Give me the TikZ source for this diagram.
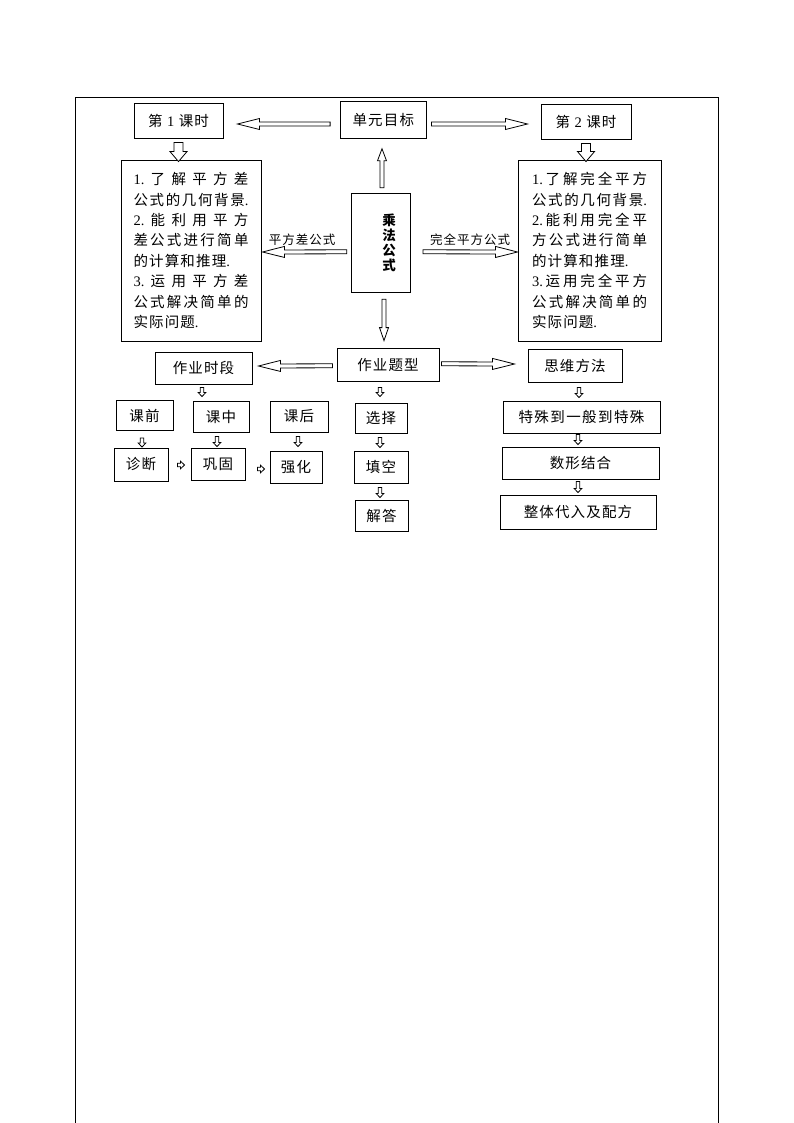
\documentclass[tikz,border=0pt]{standalone}
\usepackage{fontspec}
\setmainfont[LetterSpace=8]{Noto Sans CJK SC}
\newfontfamily\lat{Liberation Serif}
\newcommand\dg[1]{{\lat #1}}
\newcommand\jl[1]{\makebox[115pt][s]{#1}}
\usetikzlibrary{calc}
\tikzset{
  bx/.style={draw, line width=0.9pt, inner sep=0pt, font=\fontsize{14.5}{16}\selectfont},
  lbl/.style={inner sep=0pt, font=\fontsize{12.5}{13}\selectfont},
  arrowline/.style={draw, line width=0.8pt, fill=white, line join=miter},
}
\newcommand\blockarrow[5]{%
  \coordinate (baS) at #1;
  \coordinate (baE) at #2;
  \coordinate (baH) at ($(baE)!#5!(baS)$);
  \draw[arrowline] ($(baS)!#3!-90:(baE)$) -- ($(baH)!#3!-90:(baE)$) -- ($(baH)!#4!-90:(baE)$) -- (baE) -- ($(baH)!#4!90:(baE)$) -- ($(baH)!#3!90:(baE)$) -- ($(baS)!#3!90:(baE)$) -- cycle;}
\newcommand\bigarrow[2]{\blockarrow{#1}{#2}{2pt}{5.5pt}{22pt}}
\newcommand\fatarrow[2]{\blockarrow{#1}{#2}{4.5pt}{8.5pt}{10pt}}
\newcommand\midarrow[2]{\blockarrow{#1}{#2}{2pt}{4.5pt}{12pt}}
\newcommand\tinyarrow[2]{\blockarrow{#1}{#2}{1.75pt}{3.75pt}{4pt}}
\begin{document}
\begin{tikzpicture}[x=1pt,y=-1pt]
\useasboundingbox (0,0) rectangle (794,1123);
\fill[white] (0,0) rectangle (794,1123);
\draw[line width=0.9pt] (75,1123) -- (75,97) -- (718,97) -- (718,1123);

% top row
\node[bx, minimum width=89, minimum height=35] (k1) at (178.5,120.5) {\makebox[61pt][s]{第\hfill\dg{1}\hfill 课时}};
\node[bx, minimum width=85.5, minimum height=36.6] (ub) at (383.3,120) {单元目标};
\node[bx, minimum width=90, minimum height=35] (k2) at (586,121.5) {\makebox[61pt][s]{第\hfill\dg{2}\hfill 课时}};

% text boxes
\node[bx, minimum width=140, minimum height=181, text width=115, align=left, font=\fontsize{14.5}{20.4}\selectfont] (L) at (191,250.5) {%
\jl{\dg{1.}\hfill 了\hfill 解\hfill 平\hfill 方\hfill 差}\\
\jl{公\hfill 式\hfill 的\hfill 几\hfill 何\hfill 背\hfill 景\dg{.}}\\
\jl{\dg{2.}\hfill 能\hfill 利\hfill 用\hfill 平\hfill 方}\\
\jl{差\hfill 公\hfill 式\hfill 进\hfill 行\hfill 简\hfill 单}\\
的计算和推理\dg{.}\\
\jl{\dg{3.}\hfill 运\hfill 用\hfill 平\hfill 方\hfill 差}\\
\jl{公\hfill 式\hfill 解\hfill 决\hfill 简\hfill 单\hfill 的}\\
实际问题\dg{.}};
\node[bx, minimum width=143, minimum height=181, text width=115, align=left, font=\fontsize{14.5}{20.4}\selectfont] (R) at (589.5,250.5) {%
\jl{\dg{1.}\hfill 了\hfill 解\hfill 完\hfill 全\hfill 平\hfill 方}\\
\jl{公\hfill 式\hfill 的\hfill 几\hfill 何\hfill 背\hfill 景\dg{.}}\\
\jl{\dg{2.}\hfill 能\hfill 利\hfill 用\hfill 完\hfill 全\hfill 平}\\
\jl{方\hfill 公\hfill 式\hfill 进\hfill 行\hfill 简\hfill 单}\\
的计算和推理\dg{.}\\
\jl{\dg{3.}\hfill 运\hfill 用\hfill 完\hfill 全\hfill 平\hfill 方}\\
\jl{公\hfill 式\hfill 解\hfill 决\hfill 简\hfill 单\hfill 的}\\
实际问题\dg{.}};

\node[bx, minimum width=58.3, minimum height=99, text width=30, align=right, font=\bfseries\fontsize{13.5}{15}\selectfont] (C) at (380.8,242.8) {乘\\法\\公\\式};

\node[lbl] (lpf) at (302,240) {平方差公式};
\node[lbl] (lwq) at (470,240) {完全平方公式};

% homework row
\node[bx, minimum width=102, minimum height=33.5] (zt) at (388,364.8) {作业题型};
\node[bx, minimum width=97, minimum height=32] (zs) at (203.5,368) {作业时段};
\node[bx, minimum width=94, minimum height=33] (sw) at (575,365.5) {思维方法};

\node[bx, minimum width=57, minimum height=30] (kq) at (144.5,415.5) {课前};
\node[bx, minimum width=56, minimum height=31] (kz) at (221,416.5) {课中};
\node[bx, minimum width=58, minimum height=31] (kh) at (299,416.5) {课后};
\node[bx, minimum width=54, minimum height=33] (zd) at (141,464.5) {诊断};
\node[bx, minimum width=54, minimum height=32] (gg) at (218,464) {巩固};
\node[bx, minimum width=52, minimum height=32] (qh) at (296,467) {强化};

\node[bx, minimum width=52, minimum height=30] (xz) at (381,418) {选择};
\node[bx, minimum width=54, minimum height=32] (tk) at (381,467) {填空};
\node[bx, minimum width=53, minimum height=31] (jd) at (381.5,515.5) {解答};

\node[bx, minimum width=157, minimum height=32] (ts) at (581.5,417) {\makebox[126pt][s]{特\hfill 殊\hfill 到\hfill 一\hfill 般\hfill 到\hfill 特\hfill 殊}};
\node[bx, minimum width=157, minimum height=32] (sx) at (580.5,463) {数形结合};
\node[bx, minimum width=156, minimum height=34] (zf) at (578,512) {整体代入及配方};

% arrows
\bigarrow{($(ub.west)+(-10,4)$)}{($(k1.east)+(14,3.5)$)}
\bigarrow{($(ub.east)+(5,4)$)}{($(k2.west)+(-13,2.5)$)}
\fatarrow{($(k1.south)+(0,4)$)}{($(L.north)+(-12.5,2)$)}
\fatarrow{($(k2.south)+(0,4)$)}{($(R.north)+(-3.5,2)$)}
\midarrow{($(C.north)+(1.2,-5)$)}{($(ub.south)+(-1.3,10)$)}
\bigarrow{($(C.west)+(-4.5,9)$)}{($(L.east)+(1,1.5)$)}
\bigarrow{($(C.east)+(12.5,9)$)}{($(R.west)+(0,1.5)$)}
\blockarrow{($(C.south)+(3.2,6.5)$)}{($(zt.north)+(-4,-7)$)}{2pt}{4.5pt}{13pt}
\bigarrow{($(zt.west)+(-4,1)$)}{($(zs.east)+(6,-2)$)}
\bigarrow{($(zt.east)+(2,-1)$)}{($(sw.west)+(-13,-1.5)$)}

\tinyarrow{($(zs.south)+(-1.5,3)$)}{($(kz.north)+(-19,-4)$)}
\tinyarrow{($(kq.south)+(-2.5,7)$)}{($(zd.north)+(1,-0.5)$)}
\tinyarrow{($(kz.south)+(-4,4)$)}{($(gg.north)+(-1,-1)$)}
\tinyarrow{($(kh.south)+(-1,4)$)}{($(qh.north)+(2,-4)$)}
\tinyarrow{($(zd.east)+(9,0.5)$)}{($(gg.west)+(-6,1)$)}
\tinyarrow{($(gg.east)+(12,5)$)}{($(qh.west)+(-5,2)$)}

\tinyarrow{($(zt.south)+(-8,5.5)$)}{($(xz.north)+(-1,-6)$)}
\tinyarrow{($(xz.south)+(-1,4)$)}{($(tk.north)+(-1,-3)$)}
\tinyarrow{($(tk.south)+(-1,4)$)}{($(jd.north)+(-1.5,-2)$)}

\tinyarrow{($(sw.south)+(4,5)$)}{($(ts.north)+(-2.5,-3)$)}
\tinyarrow{($(ts.south)+(-3.5,1)$)}{($(sx.north)+(-2.5,-2)$)}
\tinyarrow{($(sx.south)+(-2.5,2)$)}{($(zf.north)+(0,-2)$)}
\end{tikzpicture}
\end{document}
